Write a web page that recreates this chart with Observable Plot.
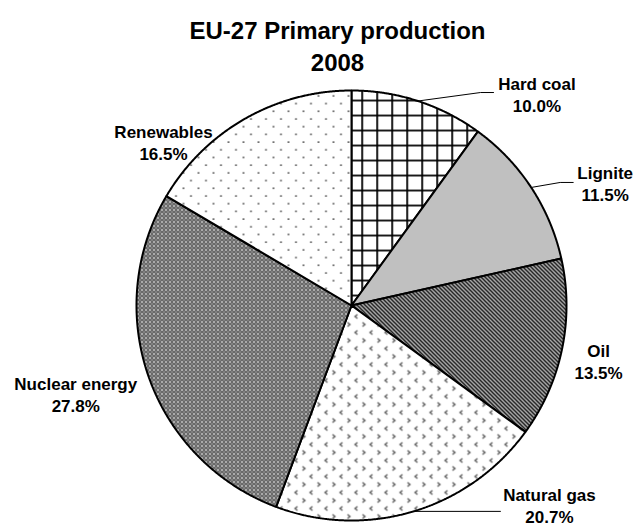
<!DOCTYPE html>
<html>
<head>
<meta charset="utf-8">
<script src="https://cdn.jsdelivr.net/npm/d3@7"></script>
<script src="https://cdn.jsdelivr.net/npm/@observablehq/plot@0.6"></script>
<style>
html, body { margin: 0; padding: 0; background: #fff; }
#chart svg { display: block; }
</style>
</head>
<body>
<div id="chart"></div>
<script>
// ---- data ----
const categories = ["Hard coal", "Lignite", "Oil", "Natural gas", "Nuclear energy", "Renewables"];
const shares = [10.0, 11.5, 13.5, 20.7, 27.8, 16.5];
const titleLines = ["EU-27 Primary production", "2008"];

// ---- styles / layout ----
const sliceFills = ["url(#p-grid)", "#c0c0c0", "url(#p-diag)", "url(#p-chev)", "url(#p-dense)", "url(#p-dots)"];
const W = 636, H = 529, CX = 351, CY = 305, R = 215;
// label centre offsets (px) from each slice's mid-arc point
const labelOffsets = [[119, -7], [74, -4.7], [36.5, 12], [136, -6.5], [-73, 17], [-81.5, 23.3]];
// leader line vertices (px) relative to the mid-arc point
const leaderOffsets = {
  "Hard coal": [[62.6, -8.5], [75.6, -8.5]],
  "Lignite": [[29, -5], [42, -5]],
  "Natural gas": [[87, 0]]
};

// ---- geometry from data ----
const arcs = d3.pie().sort(null).value(d => d)(shares);
const slicePoints = [];
const labels = [];
const leaderPts = [];
arcs.forEach((a, i) => {
  const name = categories[i];
  slicePoints.push({name, fill: sliceFills[i], x: 0, y: 0});
  const n = Math.max(2, Math.ceil((a.endAngle - a.startAngle) / (Math.PI / 720)));
  for (let k = 0; k <= n; k++) {
    const t = a.startAngle + (a.endAngle - a.startAngle) * k / n;
    slicePoints.push({name, fill: sliceFills[i], x: Math.sin(t), y: Math.cos(t)});
  }
  slicePoints.push({name, fill: sliceFills[i], x: 0, y: 0});
  const m = (a.startAngle + a.endAngle) / 2;
  const mx = Math.sin(m), my = Math.cos(m);
  const [ox, oy] = labelOffsets[i];
  labels.push({name, x: mx + ox / R, y: my - oy / R, text: name + "\n" + shares[i].toFixed(1) + "%"});
  if (leaderOffsets[name]) {
    leaderPts.push({name, x: mx, y: my});
    for (const [dx, dy] of leaderOffsets[name]) leaderPts.push({name, x: mx + dx / R, y: my - dy / R});
  }
});

const svg = Plot.plot({
  width: W,
  height: H,
  margin: 0,
  x: {domain: [-CX / R, (W - CX) / R], axis: null},
  y: {domain: [-(H - CY) / R, CY / R], axis: null},
  color: {type: "identity"},
  style: {fontFamily: "'Liberation Sans', Arial, sans-serif", background: "#fff", color: "#000"},
  marks: [
    Plot.line(slicePoints, {x: "x", y: "y", z: "name", fill: "fill", stroke: "#000", strokeWidth: 2, strokeLinejoin: "miter", curve: "linear"}),
    Plot.line(leaderPts, {x: "x", y: "y", z: "name", stroke: "#000", strokeWidth: 1}),
    Plot.text(labels, {x: "x", y: "y", text: "text", fontSize: 17, fontWeight: "bold", lineHeight: 1.294, fill: "#000", lineAnchor: "middle"}),
    Plot.text([titleLines.join("\n")], {frameAnchor: "top", text: d => d, dx: 19, dy: 16, lineAnchor: "top", fontSize: 24, fontWeight: "bold", lineHeight: 1.333, fill: "#000"})
  ]
});

// ---- pattern definitions ----
const defs = d3.select(svg).insert("defs", ":first-child");
// hard coal: square grid
const pg = defs.append("pattern").attr("id", "p-grid").attr("patternUnits", "userSpaceOnUse")
  .attr("x", 0.8).attr("y", 9.1).attr("width", 15).attr("height", 15);
pg.append("rect").attr("width", 15).attr("height", 15).attr("fill", "#fff");
pg.append("path").attr("d", "M0.9,0V15M0,0.9H15").attr("stroke", "#000").attr("stroke-width", 1.8);
// oil: dense diagonal stripes
const pd = defs.append("pattern").attr("id", "p-diag").attr("patternUnits", "userSpaceOnUse")
  .attr("width", 4).attr("height", 4);
pd.append("rect").attr("width", 4).attr("height", 4).attr("fill", "#fff");
pd.append("path").attr("d", "M-1,-1L5,5M-1,3L1,5M3,-1L5,1").attr("stroke", "#000").attr("stroke-width", 1.6);
// natural gas: small chevrons
const pc = defs.append("pattern").attr("id", "p-chev").attr("patternUnits", "userSpaceOnUse")
  .attr("width", 15).attr("height", 16);
pc.append("rect").attr("width", 15).attr("height", 16).attr("fill", "#fff");
pc.append("path").attr("d", "M2,2L4.5,4L2,6").attr("stroke", "#555").attr("fill", "none").attr("stroke-width", 1.3);
pc.append("path").attr("d", "M12,10L9.5,12L12,14").attr("stroke", "#555").attr("fill", "none").attr("stroke-width", 1.3);
// nuclear: dense dark texture
const pn = defs.append("pattern").attr("id", "p-dense").attr("patternUnits", "userSpaceOnUse")
  .attr("width", 4).attr("height", 4);
pn.append("rect").attr("width", 4).attr("height", 4).attr("fill", "#555");
[[0, 1], [2, 1], [1, 0], [1, 2]].forEach(([x, y]) => pn.append("rect").attr("x", x).attr("y", y).attr("width", 1).attr("height", 1).attr("fill", "#aaa"));
[[1, 1], [3, 3]].forEach(([x, y]) => pn.append("rect").attr("x", x).attr("y", y).attr("width", 1).attr("height", 1).attr("fill", "#fff"));
// renewables: sparse dots
const pr = defs.append("pattern").attr("id", "p-dots").attr("patternUnits", "userSpaceOnUse")
  .attr("width", 15).attr("height", 15.4);
pr.append("rect").attr("width", 15).attr("height", 15.4).attr("fill", "#fff");
pr.append("circle").attr("cx", 3).attr("cy", 3).attr("r", 0.95).attr("fill", "#333");
pr.append("circle").attr("cx", 10.5).attr("cy", 10.7).attr("r", 0.95).attr("fill", "#333");

document.getElementById("chart").appendChild(svg);
</script>
</body>
</html>
